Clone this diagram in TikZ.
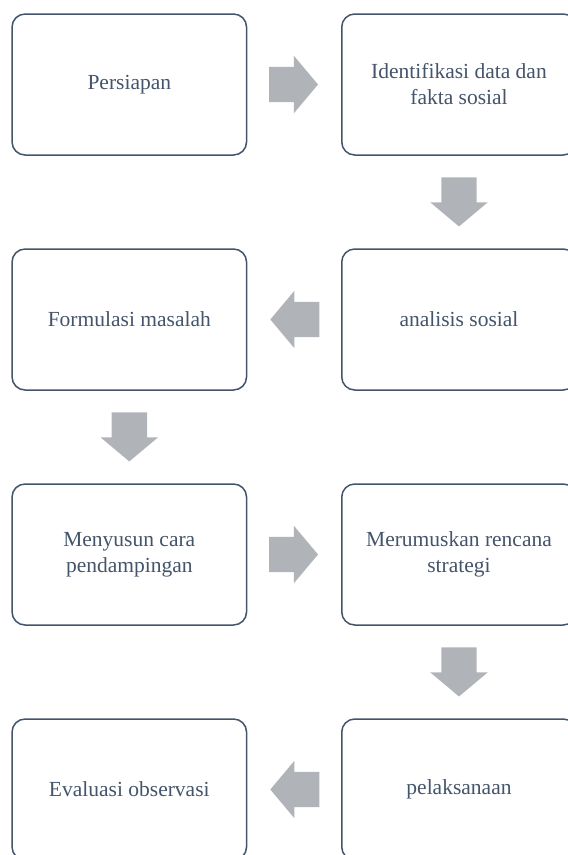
\documentclass[tikz,border=0pt]{standalone}
\usepackage{fontspec}
\setmainfont{Liberation Serif}
\usetikzlibrary{calc,shapes.arrows}
\definecolor{bordercolorc}{HTML}{44546A}
\definecolor{arrowcolorc}{HTML}{B0B3B8}
\colorlet{textc}{bordercolorc}
\tikzstyle{stepbox} =[
    draw=bordercolor,
    line width=1.5pt,
    rectangle,
    rounded corners=13pt,
    minimum width=234.5pt,
    minimum height=141pt,
    text=textcolor,
    align=center,
    font=\fontsize{21.5}{26}\selectfont
    ]
\tikzstyle{fatarrow} = [
    single arrow,
    fill=arrowcolor,
    draw=none,
    anchor=tail,
    inner xsep=0pt,
    inner ysep=17.5pt,
    minimum height=49pt,
    single arrow head extend=11pt,
    single arrow tip angle=100
    ]
\colorlet{bordercolor}{bordercolorc}
\colorlet{arrowcolor}{arrowcolorc}
\colorlet{textcolor}{textc}
\begin{document}
\begin{tikzpicture}[x=1pt,y=1pt]
\useasboundingbox (0,0) rectangle (568,-855);
\clip (0,0) rectangle (568,-855);
\node [stepbox] (persiapan) at (129.3,-84.5) {Persiapan};
\node [stepbox] (identifikasi) at (459,-84.5) {Identifikasi data dan\\fakta sosial};
\node [stepbox] (analisis) at (459,-319.5) {analisis sosial};
\node [stepbox] (formulasi) at (129.3,-319.5) {Formulasi masalah};
\node [stepbox] (menyusun) at (129.3,-554.5) {Menyusun cara\\pendampingan};
\node [stepbox] (merumuskan) at (459,-554.5) {Merumuskan rencana\\strategi};
\node [stepbox] (pelaksanaan) at (459,-789.5) {pelaksanaan};
\node [stepbox] (evaluasi) at (129.3,-789.5) {Evaluasi observasi};
% arrows between the steps
\node [fatarrow] (toidentifikasi) at ($(persiapan.east)!21.5pt!(identifikasi.west)$) {};
\node [fatarrow, rotate=-90] (toanalisis) at ($(identifikasi.south)!21.5pt!(analisis.north)$) {};
\node [fatarrow, rotate=180] (toformulasi) at ($(analisis.west)!21.5pt!(formulasi.east)$) {};
\node [fatarrow, rotate=-90] (tomenyusun) at ($(formulasi.south)!21.5pt!(menyusun.north)$) {};
\node [fatarrow] (tomerumuskan) at ($(menyusun.east)!21.5pt!(merumuskan.west)$) {};
\node [fatarrow, rotate=-90] (topelaksanaan) at ($(merumuskan.south)!21.5pt!(pelaksanaan.north)$) {};
\node [fatarrow, rotate=180] (toevaluasi) at ($(pelaksanaan.west)!21.5pt!(evaluasi.east)$) {};
\end{tikzpicture}
\end{document}
